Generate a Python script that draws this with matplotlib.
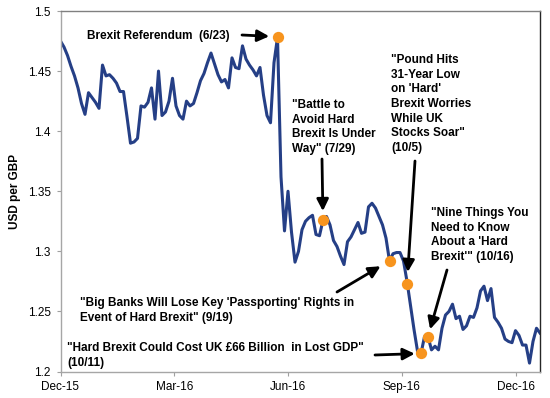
import numpy as np
import matplotlib
matplotlib.use("Agg")
import matplotlib.pyplot as plt

# USD per GBP, every other trading day, Dec-15 .. Dec-16
usd = [1.475, 1.470, 1.463, 1.454, 1.446, 1.436, 1.423, 1.414, 1.432, 1.428,
       1.424, 1.419, 1.455, 1.446, 1.447, 1.444, 1.440, 1.433, 1.433, 1.412,
       1.390, 1.391, 1.394, 1.421, 1.420, 1.424, 1.436, 1.410, 1.450, 1.413,
       1.416, 1.425, 1.444, 1.421, 1.413, 1.410, 1.425, 1.421, 1.423, 1.432,
       1.442, 1.448, 1.457, 1.465, 1.456, 1.447, 1.441, 1.443, 1.436, 1.461,
       1.453, 1.452, 1.471, 1.460, 1.455, 1.451, 1.446, 1.453, 1.430, 1.413,
       1.407, 1.457, 1.478, 1.362, 1.317, 1.350, 1.316, 1.291, 1.300, 1.318,
       1.325, 1.328, 1.330, 1.314, 1.313, 1.326, 1.329, 1.322, 1.309, 1.304,
       1.296, 1.289, 1.308, 1.312, 1.318, 1.324, 1.315, 1.316, 1.337, 1.340,
       1.336, 1.329, 1.322, 1.311, 1.292, 1.298, 1.299, 1.299, 1.292, 1.275,
       1.255, 1.235, 1.217, 1.215, 1.229, 1.229, 1.218, 1.221, 1.218, 1.236,
       1.247, 1.250, 1.256, 1.244, 1.246, 1.235, 1.238, 1.246, 1.245, 1.253,
       1.267, 1.271, 1.259, 1.269, 1.245, 1.241, 1.236, 1.227, 1.225, 1.224,
       1.234, 1.230, 1.222, 1.222, 1.207, 1.225, 1.236, 1.232]
day = np.arange(len(usd)) * 2

tick_pos = [0, 65, 130, 195, 260]
tick_labels = ["Dec-15", "Mar-16", "Jun-16", "Sep-16", "Dec-16"]
y_ticks = [1.2, 1.25, 1.3, 1.35, 1.4, 1.45, 1.5]
y_labels = ["1.2", "1.25", "1.3", "1.35", "1.4", "1.45", "1.5"]

# headline events: trading-day index, rate
ev_day = [124, 150, 188, 198, 206, 210]
ev_val = [1.4786, 1.326, 1.292, 1.273, 1.215, 1.229]
ev_text = [
    "Brexit Referendum  (6/23)",
    "\"Battle to\nAvoid Hard\nBrexit Is Under\nWay\" (7/29)",
    "\"Big Banks Will Lose Key 'Passporting' Rights in\nEvent of Hard Brexit\" (9/19)",
    "\"Pound Hits\n31-Year Low\non 'Hard'\nBrexit Worries\nWhile UK\nStocks Soar\"\n(10/5)",
    "\"Hard Brexit Could Cost UK \u00a366 Billion  in Lost GDP\"\n(10/11)",
    "\"Nine Things You\nNeed to Know\nAbout a 'Hard\nBrexit'\" (10/16)",
]
# layout in image pixels (from top-left): text anchor, arrow tail, gap at dot
text_px = [(87, 36), (292, 99), (80, 297), (391, 54), (67, 342), (431, 207)]
tail_px = [(242, 35), (322, 159), (337, 292), (415, 161), (375, 355), (447, 270)]
gap_pt = [6, 6.5, 7.5, 8.5, 4.5, 5.5]

plt.rcParams['font.family'] = ['Liberation Sans', 'DejaVu Sans']

W, H = 550, 398
fig = plt.figure(figsize=(5.5, 3.98), dpi=100)
ax = fig.add_axes([60.5 / W, 1 - 371.5 / H, 479.5 / W, 360.5 / H])

ax.plot(day, usd, color='#253f86', lw=2.2, zorder=2)
ax.scatter(ev_day, ev_val, s=66, color='#f7941e', zorder=4, linewidths=0)

for i in range(len(ev_text)):
    tx, ty = text_px[i]
    va = 'center' if i == 0 else 'top'
    fig.text(tx / W, 1 - ty / H, ev_text[i], fontsize=8.5, fontweight='bold',
             ha='left', va=va, linespacing=1.3)
    ax.annotate('', xy=(ev_day[i], ev_val[i]), xycoords='data',
                xytext=(tail_px[i][0], H - tail_px[i][1]), textcoords='figure pixels',
                arrowprops=dict(arrowstyle='-|>,head_length=0.7,head_width=0.35',
                                color='black', lw=2.0, shrinkA=0, shrinkB=gap_pt[i]),
                zorder=5)

ax.set_xlim(0, 274)
ax.set_ylim(1.2, 1.5)
ax.set_xticks(tick_pos)
ax.set_xticklabels(tick_labels)
ax.set_yticks(y_ticks)
ax.set_yticklabels(y_labels)
ax.tick_params(labelsize=8.5, length=3, width=0.8, color='#a0a0a0', pad=4)
ax.set_ylabel("USD per GBP", fontsize=8.5, fontweight='bold', labelpad=5)

for side in ['left', 'bottom']:
    ax.spines[side].set_color('#a6a6a6')
ax.spines['top'].set_color('#808080')
ax.spines['right'].set_color('#262626')
for s in ax.spines.values():
    s.set_linewidth(1.0)

fig.savefig("out.png", dpi=100)
